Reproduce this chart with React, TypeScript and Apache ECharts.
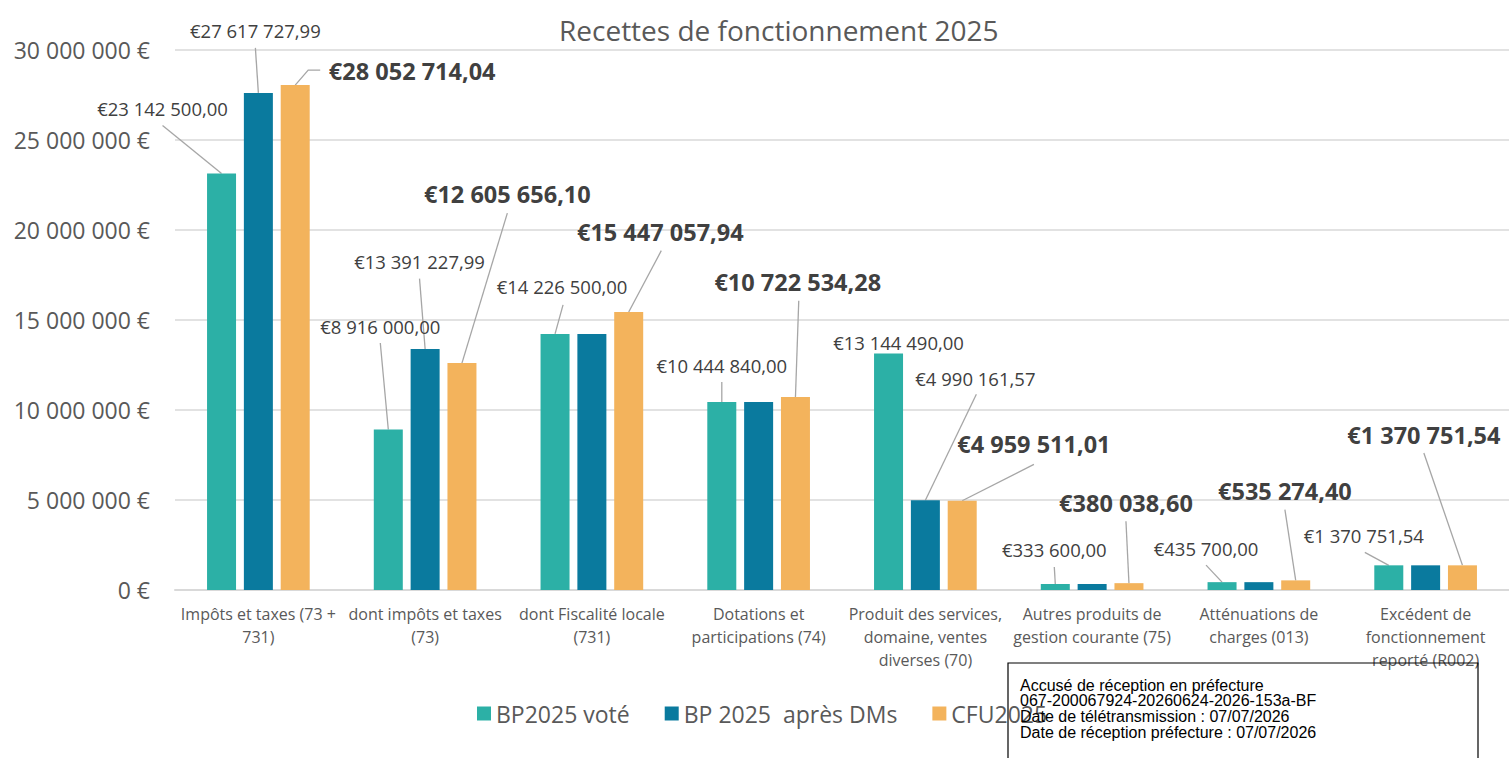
import React, { useEffect, useRef } from "react";
import * as echarts from "echarts";

const TITLE = "Recettes de fonctionnement 2025";
const CATEGORIES = [
  "Impôts et taxes (73 +\n731)",
  "dont impôts et taxes\n(73)",
  "dont Fiscalité locale\n(731)",
  "Dotations et\nparticipations (74)",
  "Produit des services,\ndomaine, ventes\ndiverses (70)",
  "Autres produits de\ngestion courante (75)",
  "Atténuations de\ncharges (013)",
  "Excédent de\nfonctionnement\nreporté (R002)",
];
const SERIES_NAMES = ["BP2025 voté", "BP 2025  après DMs", "CFU2025"];
const BP_VOTE = [23142500, 8916000, 14226500, 10444840, 13144490, 333600, 435700, 1370751.54];
const BP_DMS = [27617727.99, 13391227.99, 14226500, 10444840, 4990161.57, 333600, 435700, 1370751.54];
const CFU = [28052714.04, 12605656.1, 15447057.94, 10722534.28, 4959511.01, 380038.6, 535274.4, 1370751.54];
const Y_TICKS = [0, 5000000, 10000000, 15000000, 20000000, 25000000, 30000000];
const SHOW_LABEL = [
  [true, true, true, true, true, true, true, true],
  [true, true, false, false, true, false, false, false],
  [true, true, true, true, true, true, true, true],
];
const COLORS = ["#2CB0A6", "#0A7A9E", "#F3B35C"];

// ---- styling only: label placement and leader lines ----
const BAR_WIDTH = 29;
const BAR_GAP = 0.27;
// label centre offsets [dx from bar centre, dy from bar top]
const LABEL_OFFSETS: Array<Array<[number, number] | null>> = [
  [[-59, -65], [-8, -103.5], [7, -47], [0, -36], [10, -10.7], [-1, -34], [-16, -34], [-25, -30]],
  [[-3, -62], [-5.6, -87.3], null, null, [50, -122], null, null, null],
  [[117, -14], [45.4, -169], [31.6, -80.3], [2.3, -115.3], [71.7, -56.4], [-3, -80], [-10.8, -89.7], [-38.6, -130.3]],
];
// leader line start points, relative to the label centre
const LINE_STARTS: Array<Array<number[][] | null>> = [
  [[[0, 17]], [[0, 17]], [[1, 18]], [[0, 16]], null, [[0, 17]], [[0, 17]], [[1, 17]]],
  [[[0, 17]], [[0, 17]], null, null, [[1, 16]], null, null, null],
  [[[-92, -1], [-104, -1]], [[0, 19]], [[1, 19]], [[1, 19]], [[0, 20]], [[0, 18]], [[0, 19]], [[0, 18]]],
];

const STAMP_LINES = [
  "Accusé de réception en préfecture",
  "067-200067924-20260624-2026-153a-BF",
  "Date de télétransmission : 07/07/2026",
  "Date de réception préfecture : 07/07/2026",
];

function groupThousands(s: string): string {
  return s.replace(/\B(?=(\d{3})+(?!\d))/g, " ");
}
function fmtEuro(v: number): string {
  const [i, d] = v.toFixed(2).split(".");
  return "€" + groupThousands(i) + "," + d;
}
function fmtAxis(v: number): string {
  return groupThousands(String(Math.round(v))) + " €";
}

const FONT = "'Open Sans', 'Noto Sans', sans-serif";

export default function App() {
  const ref = useRef<HTMLDivElement>(null);
  useEffect(() => {
    document.body.style.margin = "0";
    if (!ref.current) return;
    const chart = echarts.init(ref.current, null, { renderer: "svg" });
    const seriesData = [BP_VOTE, BP_DMS, CFU];
    const barStep = BAR_WIDTH * (1 + BAR_GAP);

    const barSeries = seriesData.map((arr, si) => ({
      name: SERIES_NAMES[si],
      type: "bar",
      barWidth: BAR_WIDTH,
      barGap: BAR_GAP * 100 + "%",
      itemStyle: { color: COLORS[si] },
      z: 2,
      data: arr.map((v, i) => ({ value: v, label: { show: SHOW_LABEL[si][i] } })),
      label: {
        show: true,
        position: "top",
        formatter: (p: any) => fmtEuro(p.value),
        fontFamily: FONT,
        fontSize: si === 2 ? 23.5 : 18.5,
        fontWeight: si === 2 ? "bold" : "normal",
        color: "#404040",
      },
      labelLayout: (params: any) => {
        const off = LABEL_OFFSETS[si][params.dataIndex];
        if (!off) return {};
        const r = params.rect;
        const top = Math.min(r.y, r.y + r.height);
        const cx = r.x + r.width / 2;
        return { x: cx + off[0], y: top + off[1], align: "center", verticalAlign: "middle" };
      },
    }));

    // leader lines, positioned from the same scales as the bars
    const leaderData: number[][] = [];
    seriesData.forEach((arr, si) =>
      arr.forEach((v, i) => {
        if (SHOW_LABEL[si][i] && LINE_STARTS[si][i]) leaderData.push([i, v, si]);
      })
    );
    const leaderSeries = {
      type: "custom",
      silent: true,
      z: 1,
      encode: { x: 0, y: 1 },
      data: leaderData,
      renderItem: (params: any, api: any) => {
        const i = api.value(0);
        const v = api.value(1);
        const si = api.value(2);
        const c = api.coord([i, v]);
        const cx = c[0] + (si - 1) * barStep;
        const top = c[1];
        const off = LABEL_OFFSETS[si][i]!;
        const lx = cx + off[0];
        const ly = top + off[1];
        const starts = LINE_STARTS[si][i]!;
        const pts = starts.map((s) => [lx + s[0], ly + s[1]]);
        pts.push([cx, top]);
        return {
          type: "polyline",
          shape: { points: pts },
          style: { stroke: "#A6A6A6", lineWidth: 1.3, fill: "none" },
        };
      },
    };

    chart.setOption({
      animation: false,
      textStyle: { fontFamily: FONT },
      title: {
        text: TITLE,
        left: 554,
        top: 11,
        textStyle: { fontFamily: FONT, fontSize: 28, fontWeight: "normal", color: "#595959" },
      },
      legend: {
        data: SERIES_NAMES,
        left: 472,
        top: 697,
        icon: "rect",
        itemWidth: 14,
        itemHeight: 14,
        itemGap: 35,
        textStyle: { fontFamily: FONT, fontSize: 23, color: "#595959" },
      },
      grid: { left: 175, right: -5, top: 50, bottom: 168, containLabel: false },
      xAxis: {
        type: "category",
        data: CATEGORIES,
        axisLine: { lineStyle: { color: "#D9D9D9", width: 2 } },
        axisTick: { show: false },
        axisLabel: {
          interval: 0,
          margin: 12,
          fontFamily: FONT,
          fontSize: 16,
          lineHeight: 23,
          color: "#595959",
        },
      },
      yAxis: {
        type: "value",
        min: Y_TICKS[0],
        max: Y_TICKS[Y_TICKS.length - 1],
        interval: Y_TICKS[1] - Y_TICKS[0],
        axisLine: { show: false },
        axisTick: { show: false },
        splitLine: { lineStyle: { color: "#D9D9D9", width: 1.5 } },
        axisLabel: {
          margin: 25,
          formatter: (v: number) => fmtAxis(v),
          fontFamily: FONT,
          fontSize: 23,
          color: "#595959",
        },
      },
      series: [...barSeries, leaderSeries],
      graphic: [
        {
          type: "rect",
          shape: { x: 1008, y: 663, width: 470, height: 120 },
          style: { fill: "none", stroke: "#000", lineWidth: 1.2 },
          z: 100,
        },
        ...STAMP_LINES.map((t, i) => ({
          type: "text",
          x: 1020,
          y: 685 + i * 15.7,
          style: {
            text: t,
            fill: "#000",
            font: "16px 'Liberation Sans', Arial, sans-serif",
            textVerticalAlign: "middle",
          },
          z: 100,
        })),
      ],
    });
    return () => chart.dispose();
  }, []);
  return <div ref={ref} style={{ width: 1509, height: 758 }} />;
}
